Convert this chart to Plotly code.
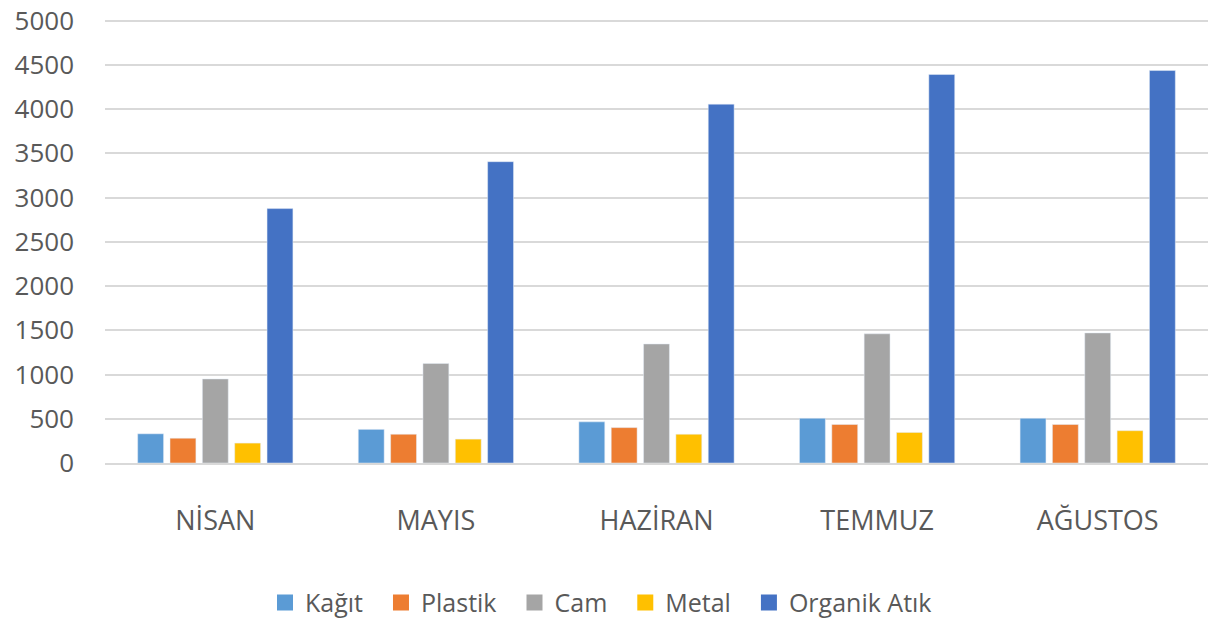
import plotly.graph_objects as go

months = ["NİSAN", "MAYIS", "HAZİRAN", "TEMMUZ", "AĞUSTOS"]
kagit = [330, 380, 465, 505, 505]
plastik = [280, 325, 400, 435, 435]
cam = [950, 1125, 1345, 1460, 1470]
metal = [225, 270, 325, 345, 365]
organik = [2875, 3405, 4055, 4390, 4435]
y_ticks = [0, 500, 1000, 1500, 2000, 2500, 3000, 3500, 4000, 4500, 5000]

series = [
    ("Kağıt", kagit, "#5B9BD5"),
    ("Plastik", plastik, "#ED7D31"),
    ("Cam", cam, "#A5A5A5"),
    ("Metal", metal, "#FFC000"),
    ("Organik Atık", organik, "#4472C4"),
]

fig = go.Figure()
for name, vals, color in series:
    fig.add_trace(go.Bar(x=months, y=vals, name=name, marker_color=color, showlegend=False))
for name, vals, color in series:
    fig.add_trace(go.Scatter(x=[None], y=[None], mode="markers", name=name + "\u00a0\u00a0",
                             marker=dict(symbol="square", size=19, color=color)))

font_family = "'Open Sans', Lato, sans-serif"
fig.update_layout(
    width=1215, height=620,
    barmode="group", bargap=0.267, bargroupgap=0.2,
    plot_bgcolor="white", paper_bgcolor="white",
    margin=dict(l=105, r=7, t=16.5, b=157, autoexpand=False),
    font=dict(family=font_family, color="#595959", size=25),
    legend=dict(orientation="h", x=0.5, xanchor="center", xref="container",
                y=0.028, yanchor="middle", yref="container",
                font=dict(size=25, color="#595959"),
                traceorder="normal", itemwidth=30),
    yaxis=dict(range=[0, 5040], tickvals=y_ticks,
               showgrid=True, gridcolor="#D9D9D9", gridwidth=1.5,
               zeroline=False, showline=False, ticklabelstandoff=30, automargin=False,
               ticklabeloverflow="allow",
               tickfont=dict(size=26, color="#595959")),
    xaxis=dict(showline=True, linecolor="#D9D9D9", linewidth=1.5, ticks="", automargin=False,
               ticklabelstandoff=33, tickfont=dict(size=27, color="#595959")),
)

fig.write_html("out.html", config={"displayModeBar": False},
               post_script="document.body.style.margin='0px';")
